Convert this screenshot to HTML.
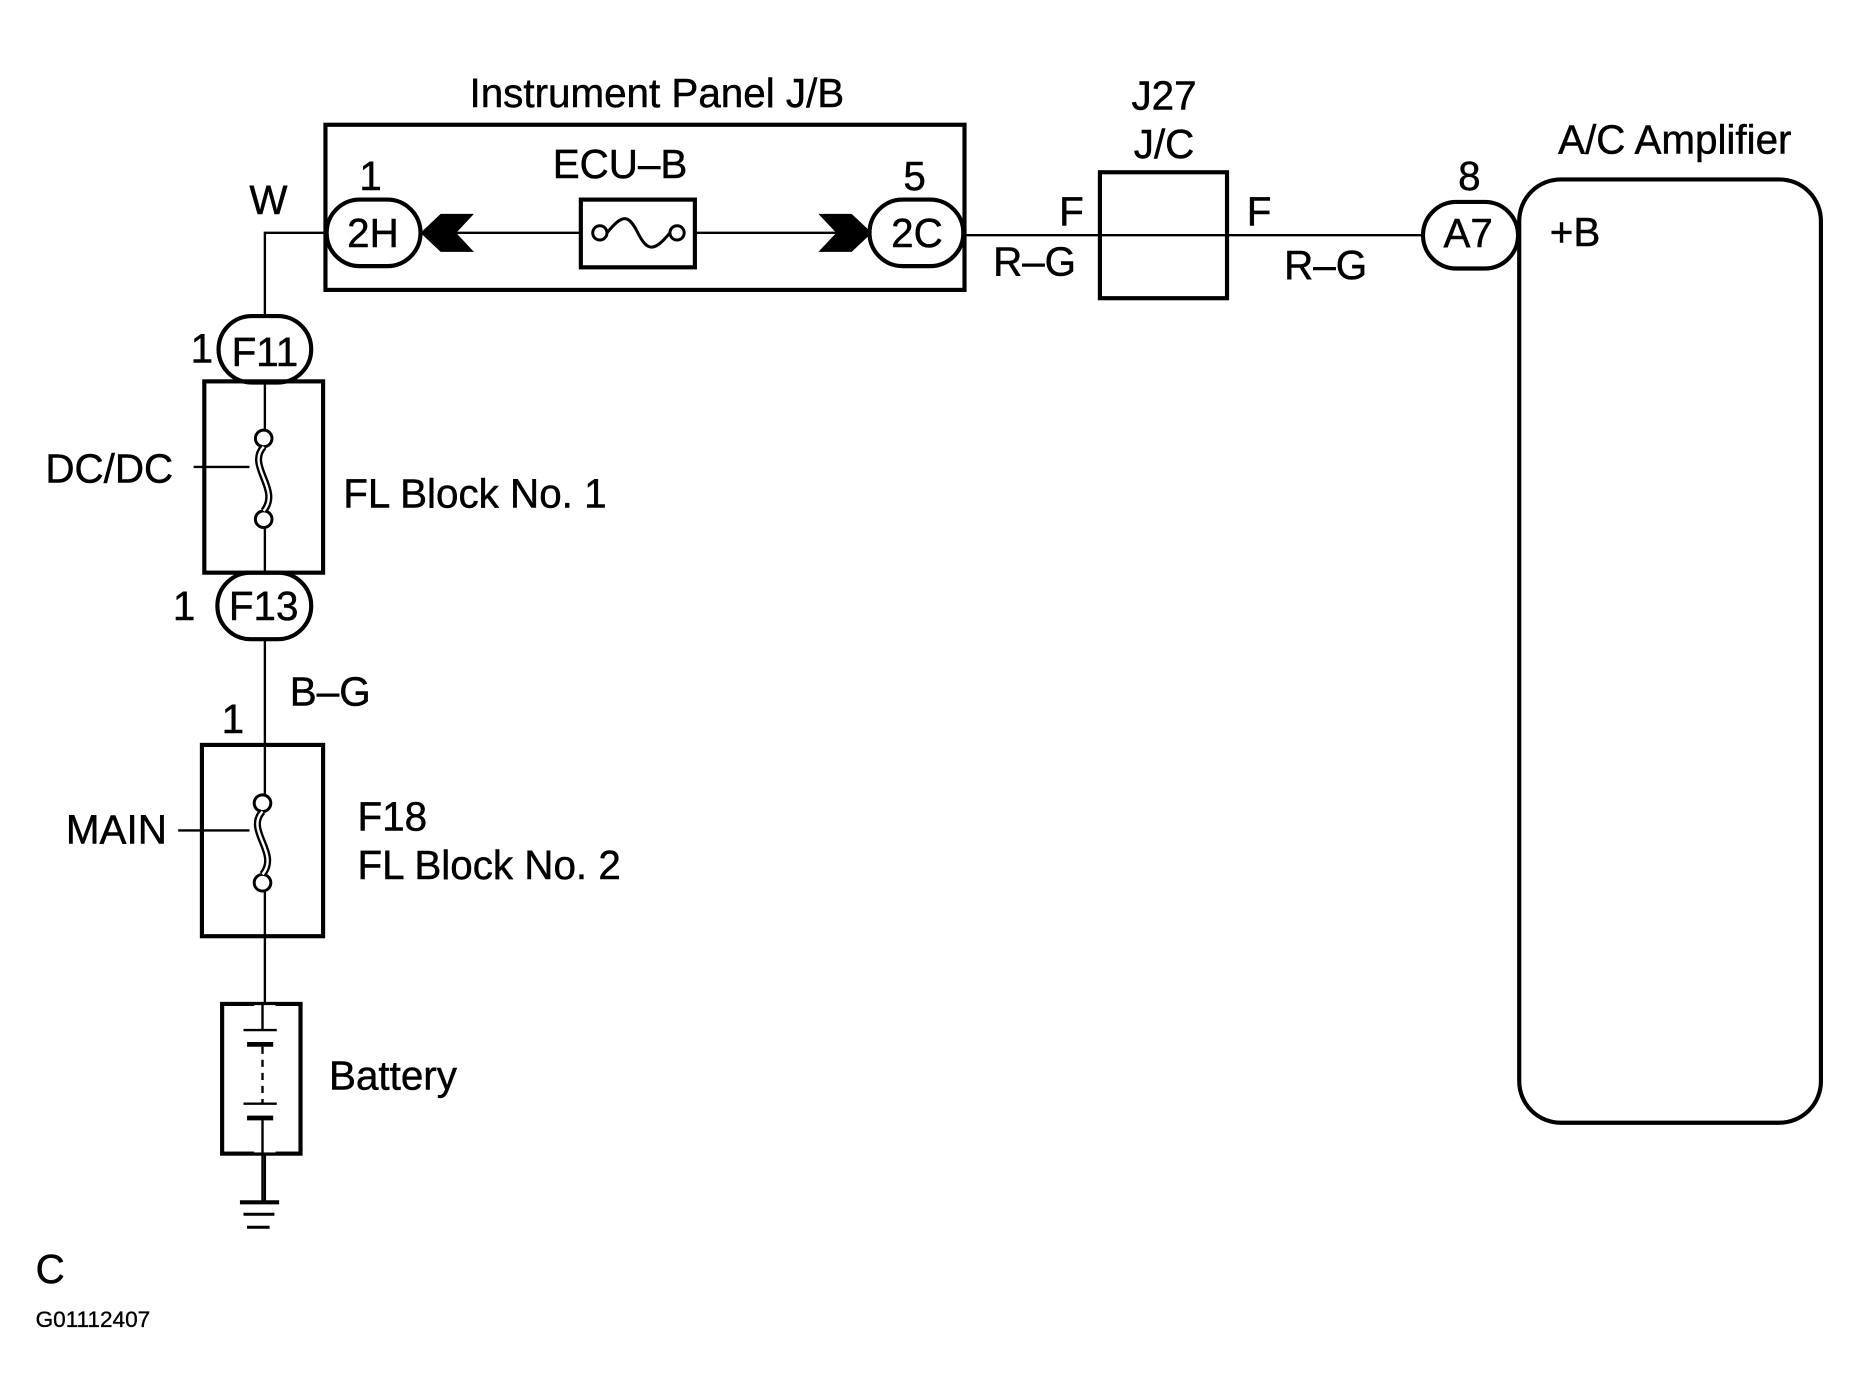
<!DOCTYPE html>
<html><head><meta charset="utf-8"><style>
html,body{margin:0;padding:0;background:#fff;}
svg{display:block;}
text{font-family:"Liberation Sans",Arial,sans-serif;fill:#000;}
</style></head><body>
<svg width="1853" height="1396" viewBox="0 0 1560 1175" preserveAspectRatio="none" xmlns="http://www.w3.org/2000/svg">
<g fill="none" stroke="#000" stroke-width="2">
<polyline points="276,196 223,196 223,266"/>
<line x1="355" y1="196" x2="490" y2="196"/>
<line x1="586" y1="196" x2="735" y2="196"/>
<line x1="812" y1="198" x2="1200" y2="198"/>
<line x1="223" y1="266" x2="223" y2="1012"/>
<line x1="163" y1="393" x2="210" y2="393"/>
<line x1="150" y1="699" x2="210" y2="699"/>
<rect x="274" y="105" width="538" height="139" stroke-width="3.5"/>
<rect x="489" y="168" width="96" height="57" stroke-width="3.5"/>
<circle cx="505" cy="196" r="6" stroke-width="2.5"/>
<circle cx="570" cy="196" r="6" stroke-width="2.5"/>
<path d="M511,196 C524,180 529,180 537,196 C545,212 551,212 564,196" stroke-width="2.5"/>
<g fill="#fff" stroke-width="3.5">
<rect x="275" y="168" width="79" height="56" rx="28"/>
<rect x="732" y="168" width="79" height="56" rx="28"/>
<rect x="1198" y="170" width="80" height="56" rx="28"/>
<rect x="184" y="266" width="78" height="56" rx="28"/>
<rect x="183" y="482" width="79" height="56" rx="28"/>
</g>
<rect x="926" y="145" width="107" height="106" stroke-width="3.5"/>
<rect x="1279" y="151" width="254" height="794" rx="35" stroke-width="3.5"/>
<rect x="172" y="321" width="100" height="161" stroke-width="3.5"/>
<rect x="170" y="627" width="102" height="161" stroke-width="3.5"/>
<rect x="187" y="845" width="66" height="126" stroke-width="3.5"/>
</g>
<g stroke="#000" stroke-width="2.5" fill="#fff">
<rect x="213" y="378" width="20" height="52" fill="#fff" stroke="none"/>
<circle cx="222" cy="369" r="7"/>
<circle cx="222" cy="437" r="7"/>
<path d="M222,376 C207,392 237,412 222,430" fill="none" stroke-width="6"/>
<path d="M222,376 C207,392 237,412 222,430" fill="none" stroke="#fff" stroke-width="2"/>
<rect x="212" y="684" width="20" height="52" fill="#fff" stroke="none"/>
<circle cx="221" cy="676" r="7"/>
<circle cx="221" cy="743" r="7"/>
<path d="M221,683 C206,699 236,718 221,736" fill="none" stroke-width="6"/>
<path d="M221,683 C206,699 236,718 221,736" fill="none" stroke="#fff" stroke-width="2"/>
</g>
<polygon points="354,196 371,180 399,180 384,196 399,212 371,212" fill="#000"/>
<polygon points="734,196 717,180 689,180 704,196 689,212 717,212" fill="#000"/>
<rect x="214" y="846" width="18" height="124" fill="#fff"/>
<g stroke="#000">
<line x1="221" y1="845" x2="221" y2="867" stroke-width="2"/>
<line x1="205" y1="867" x2="233" y2="867" stroke-width="2"/>
<line x1="208" y1="879" x2="230" y2="879" stroke-width="4"/>
<line x1="221" y1="881" x2="221" y2="929" stroke-width="2" stroke-dasharray="6,5"/>
<line x1="205" y1="929" x2="233" y2="929" stroke-width="2"/>
<line x1="208" y1="941" x2="230" y2="941" stroke-width="4"/>
<line x1="221" y1="941" x2="221" y2="1012" stroke-width="2"/>
<line x1="202" y1="1012" x2="235" y2="1012" stroke-width="3.5"/>
<line x1="205" y1="1022" x2="231" y2="1022" stroke-width="2.5"/>
<line x1="208" y1="1033" x2="227" y2="1033" stroke-width="2.5"/>
</g>
<g font-size="34" stroke="#000" stroke-width="0.4">
<text x="553" y="90" text-anchor="middle">Instrument Panel J/B</text>
<text x="522" y="150" text-anchor="middle">ECU–B</text>
<text x="312" y="160" text-anchor="middle">1</text>
<text x="770" y="160" text-anchor="middle">5</text>
<text x="314" y="208" text-anchor="middle">2H</text>
<text x="772" y="208" text-anchor="middle">2C</text>
<text x="226" y="180" text-anchor="middle">W</text>
<text x="902" y="190" text-anchor="middle">F</text>
<text x="871" y="232" text-anchor="middle">R–G</text>
<text x="1060" y="190" text-anchor="middle">F</text>
<text x="1116" y="235" text-anchor="middle">R–G</text>
<text x="980" y="92" text-anchor="middle">J27</text>
<text x="980" y="133" text-anchor="middle">J/C</text>
<text x="1237" y="160" text-anchor="middle">8</text>
<text x="1236" y="208" text-anchor="middle">A7</text>
<text x="1410" y="129" text-anchor="middle">A/C Amplifier</text>
<text x="1326" y="207" text-anchor="middle">+B</text>
<text x="223" y="308" text-anchor="middle">F11</text>
<text x="170" y="305" text-anchor="middle">1</text>
<text x="222" y="522" text-anchor="middle">F13</text>
<text x="155" y="522" text-anchor="middle">1</text>
<text x="92" y="406" text-anchor="middle">DC/DC</text>
<text x="289" y="427">FL Block No. 1</text>
<text x="278" y="594" text-anchor="middle">B–G</text>
<text x="196" y="617" text-anchor="middle">1</text>
<text x="98" y="710" text-anchor="middle">MAIN</text>
<text x="301" y="699">F18</text>
<text x="301" y="740">FL Block No. 2</text>
<text x="277" y="917">Battery</text>
<text x="30" y="1080">C</text>
</g>
<text x="30" y="1117" font-size="19" stroke="#000" stroke-width="0.3">G01112407</text>
</svg>
</body></html>
